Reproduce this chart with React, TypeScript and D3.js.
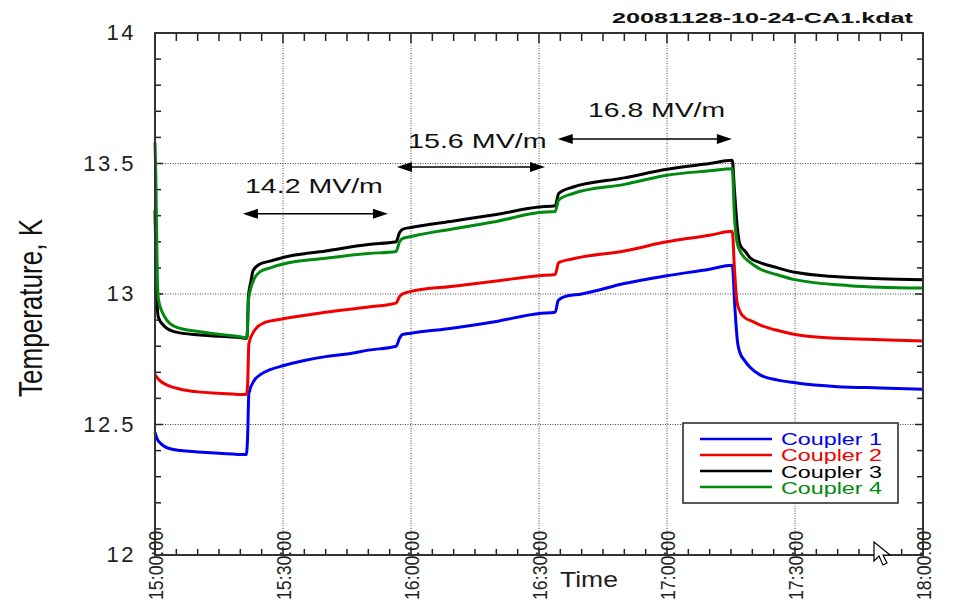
import React from "react";
import * as d3 from "d3";

const W = 953;
const H = 603;

// minutes after 15:00:00, temperature K
const coupler1: [number, number][] = [
  [0, 12.47], [0.5, 12.445], [1.5, 12.425], [3, 12.41], [6, 12.4], [10, 12.395], [15, 12.39], [21.4, 12.385],
  [21.7, 12.45], [22.0, 12.62], [23.3, 12.67], [24.6, 12.69], [27, 12.71], [30, 12.725], [35, 12.745], [40, 12.76],
  [45, 12.77], [50, 12.785], [56.5, 12.8], [57.3, 12.83], [58, 12.845], [60, 12.85], [70, 12.87], [80, 12.895],
  [90, 12.925], [93.8, 12.93], [94.5, 12.975], [96, 12.99], [100, 13.0], [110, 13.04], [120, 13.07], [130, 13.095],
  [135.3, 13.11], [135.9, 12.95], [136.5, 12.82], [137.1, 12.775], [138.2, 12.745], [139.4, 12.72], [141.8, 12.69],
  [146, 12.67], [150, 12.66], [160, 12.645], [170, 12.64], [180, 12.635],
];
const coupler2: [number, number][] = [
  [0, 12.69], [1, 12.67], [3, 12.65], [6, 12.635], [10, 12.625], [15, 12.62], [21.4, 12.615], [21.7, 12.65],
  [22.0, 12.81], [23.3, 12.86], [25.6, 12.89], [30, 12.905], [40, 12.93], [50, 12.95], [56.5, 12.965], [57.3, 12.99],
  [58, 13.0], [60, 13.01], [70, 13.03], [80, 13.05], [90, 13.07], [93.8, 13.075], [94.6, 13.12], [98, 13.135],
  [110, 13.165], [120, 13.2], [130, 13.225], [135.3, 13.24], [135.8, 13.1], [136.4, 12.97], [137.2, 12.93],
  [138.2, 12.91], [140, 12.895], [142, 12.88], [146, 12.86], [150, 12.845], [160, 12.83], [170, 12.825], [180, 12.82],
];
const coupler3: [number, number][] = [
  [0, 13.32], [0.15, 13.2], [0.4, 13.0], [0.8, 12.91], [2.3, 12.875], [4.7, 12.855], [10.5, 12.843], [20, 12.833],
  [21.4, 12.83], [21.6, 12.84], [21.9, 12.99], [22.5, 13.05], [23, 13.09], [24.6, 13.115], [27, 13.126], [30, 13.14],
  [40, 13.165], [50, 13.19], [56.5, 13.2], [57.3, 13.235], [58, 13.248], [60, 13.255], [70, 13.28], [80, 13.305],
  [90, 13.333], [93.8, 13.338], [94.6, 13.385], [98, 13.41], [110, 13.445], [120, 13.478], [130, 13.5], [135.3, 13.512],
  [135.8, 13.4], [136.5, 13.25], [137.1, 13.19], [138.5, 13.16], [139.4, 13.14], [141.8, 13.12], [146, 13.1],
  [150, 13.083], [160, 13.066], [170, 13.058], [180, 13.055],
];
const coupler4: [number, number][] = [
  [0, 13.58], [0.2, 13.45], [0.5, 13.1], [0.8, 12.98], [2.3, 12.912], [4.7, 12.875], [10.5, 12.855], [20, 12.836],
  [21.4, 12.832], [21.6, 12.84], [21.9, 12.975], [22.5, 13.025], [23.3, 13.06], [24.6, 13.085], [27, 13.1],
  [30, 13.115], [40, 13.137], [50, 13.155], [56.5, 13.163], [57.3, 13.2], [58, 13.212], [60, 13.22], [70, 13.25],
  [80, 13.278], [90, 13.312], [93.8, 13.316], [94.6, 13.36], [98, 13.385], [110, 13.42], [120, 13.455], [130, 13.472],
  [135.3, 13.48], [135.8, 13.3], [136.4, 13.2], [137.1, 13.165], [139.4, 13.122], [141.8, 13.096], [146, 13.073],
  [150, 13.055], [162.8, 13.032], [170, 13.026], [180, 13.023],
];

const seriesData = [coupler1, coupler2, coupler3, coupler4];
const seriesNames = ["Coupler 1", "Coupler 2", "Coupler 3", "Coupler 4"];
const seriesColors = ["#0000f0", "#f00000", "#000000", "#008a10"];

const xTickMinutes = [0, 30, 60, 90, 120, 150, 180];
const xTickLabels = ["15:00:00", "15:30:00", "16:00:00", "16:30:00", "17:00:00", "17:30:00", "18:00:00"];
const yTickValues = [12, 12.5, 13, 13.5, 14];
const yTickLabels = ["12", "12.5", "13", "13.5", "14"];

// field annotations: time span (min) and level (K)
const annLabels = ["14.2 MV/m", "15.6 MV/m", "16.8 MV/m"];
const annStart = [20.6, 56.7, 94.4];
const annEnd = [54.6, 91.4, 135.2];
const annArrowLevel = [13.307, 13.487, 13.594];
const annTextStart = [21.1, 59.3, 101.5];
const annTextEnd = [53.4, 91.8, 133.6];
const annTextLevel = [13.387, 13.56, 13.678];

const title = "20081128-10-24-CA1.kdat";

const FONT = "'Liberation Sans', Arial, sans-serif";

export default function App() {
  const x = d3.scaleLinear().domain([0, 180]).range([155, 923]);
  const y = d3.scaleLinear().domain([12, 14]).range([555, 33]);
  const [x0, x1] = x.range();
  const [y0, y1] = y.range();

  const line = d3
    .line<[number, number]>()
    .x((d) => x(d[0]))
    .y((d) => y(d[1]))
    .curve(d3.curveMonotoneX);

  const xMinor = d3.range(0, 181, 5);
  const yMinor = d3.range(120, 141, 1).map((v) => v / 10);

  const arrowHead = (xt: number, yt: number, dir: number) => {
    const L = 15, hw = 5;
    return `M${xt},${yt} L${xt - dir * L},${yt - hw} L${xt - dir * L},${yt + hw} Z`;
  };

  return (
    <svg width={W} height={H} style={{ position: "absolute", left: 0, top: 0, background: "#fff" }} fontFamily={FONT}>
      <rect x={0} y={0} width={W} height={H} fill="#fff" />
      <defs>
        <clipPath id="plotclip">
          <rect x={x0 - 3} y={y1} width={x1 - x0 + 3} height={y0 - y1} />
        </clipPath>
      </defs>

      {/* grid */}
      {xTickMinutes.slice(1, -1).map((m) => (
        <line key={"gx" + m} x1={x(m)} x2={x(m)} y1={y1} y2={y0} stroke="#444" strokeWidth={1} strokeDasharray="1,1.5" />
      ))}
      {yTickValues.slice(1, -1).map((v) => (
        <line key={"gy" + v} x1={x0} x2={x1} y1={y(v)} y2={y(v)} stroke="#444" strokeWidth={1} strokeDasharray="1,1.5" />
      ))}

      {/* minor / major ticks */}
      {xMinor.map((m) => {
        const len = m % 30 === 0 ? 8 : 6;
        return (
          <g key={"tx" + m}>
            <line x1={x(m)} x2={x(m)} y1={y0} y2={y0 - len} stroke="#222" strokeWidth={1.5} />
            <line x1={x(m)} x2={x(m)} y1={y1} y2={y1 + len + 2} stroke="#222" strokeWidth={1.5} />
          </g>
        );
      })}
      {yMinor.map((v) => {
        const len = Math.abs(v * 2 - Math.round(v * 2)) < 1e-6 ? 8 : 6;
        return (
          <g key={"ty" + v}>
            <line x1={x0} x2={x0 + len} y1={y(v)} y2={y(v)} stroke="#222" strokeWidth={1.5} />
            <line x1={x1} x2={x1 - len} y1={y(v)} y2={y(v)} stroke="#222" strokeWidth={1.5} />
          </g>
        );
      })}

      {/* series */}
      <g clipPath="url(#plotclip)">
        {seriesData.map((d, i) => (
          <path key={seriesNames[i]} d={line(d) || ""} fill="none" stroke={seriesColors[i]} strokeWidth={3} strokeLinejoin="round" />
        ))}
      </g>

      {/* frame */}
      <rect x={x0} y={y1} width={x1 - x0} height={y0 - y1} fill="none" stroke="#333" strokeWidth={2} />

      {/* y tick labels */}
      {yTickValues.map((v, i) => (
        <text key={"yl" + v} x={136} y={y(v) + 7} textAnchor="end" fontSize={22} letterSpacing={2.5} fill="#222">
          {yTickLabels[i]}
        </text>
      ))}

      {/* x tick labels */}
      {xTickMinutes.map((m, i) => (
        <text
          key={"xl" + m}
          transform={`translate(${x(m) + 8},531) rotate(-90)`}
          textAnchor="end"
          fontSize={21}
          textLength={69}
          lengthAdjust="spacingAndGlyphs"
          fill="#222"
        >
          {xTickLabels[i]}
        </text>
      ))}

      {/* axis titles */}
      <text x={560} y={587} fontSize={22} textLength={58} lengthAdjust="spacingAndGlyphs" fill="#222">
        Time
      </text>
      <text
        transform={`translate(42,308) rotate(-90)`}
        textAnchor="middle"
        fontSize={33}
        textLength={178}
        lengthAdjust="spacingAndGlyphs"
        fill="#111"
      >
        Temperature, K
      </text>

      {/* title */}
      <text x={612} y={23} fontSize={15} fontWeight="bold" textLength={301} lengthAdjust="spacingAndGlyphs" fill="#111">
        {title}
      </text>

      {/* annotations */}
      {annLabels.map((lab, i) => {
        const xa = x(annStart[i]);
        const xb = x(annEnd[i]);
        const ya = y(annArrowLevel[i]);
        return (
          <g key={"ann" + i}>
            <line x1={xa + 8} x2={xb - 8} y1={ya} y2={ya} stroke="#000" strokeWidth={1.5} />
            <path d={arrowHead(xa, ya, -1)} fill="#000" />
            <path d={arrowHead(xb, ya, 1)} fill="#000" />
            <text
              x={x(annTextStart[i])}
              y={y(annTextLevel[i])}
              fontSize={21}
              textLength={x(annTextEnd[i]) - x(annTextStart[i])}
              lengthAdjust="spacingAndGlyphs"
              fill="#111"
            >
              {lab}
            </text>
          </g>
        );
      })}

      {/* legend */}
      <g>
        <rect x={683} y={423} width={215} height={80} fill="#fff" stroke="#222" strokeWidth={1.5} />
        {seriesNames.map((n, i) => (
          <g key={"lg" + n}>
            <line x1={700} x2={772} y1={439 + i * 16} y2={439 + i * 16} stroke={seriesColors[i]} strokeWidth={2.5} />
            <text x={781} y={445 + i * 16.3} fontSize={16.5} textLength={101} lengthAdjust="spacingAndGlyphs" fill={seriesColors[i]}>
              {n}
            </text>
          </g>
        ))}
      </g>

      {/* mouse pointer */}
      <path
        d="M874,542 L874,561 L879,556 L883,565 L887,563 L883,555 L890,555 Z"
        fill="#fff"
        stroke="#000"
        strokeWidth={1.2}
      />
    </svg>
  );
}
